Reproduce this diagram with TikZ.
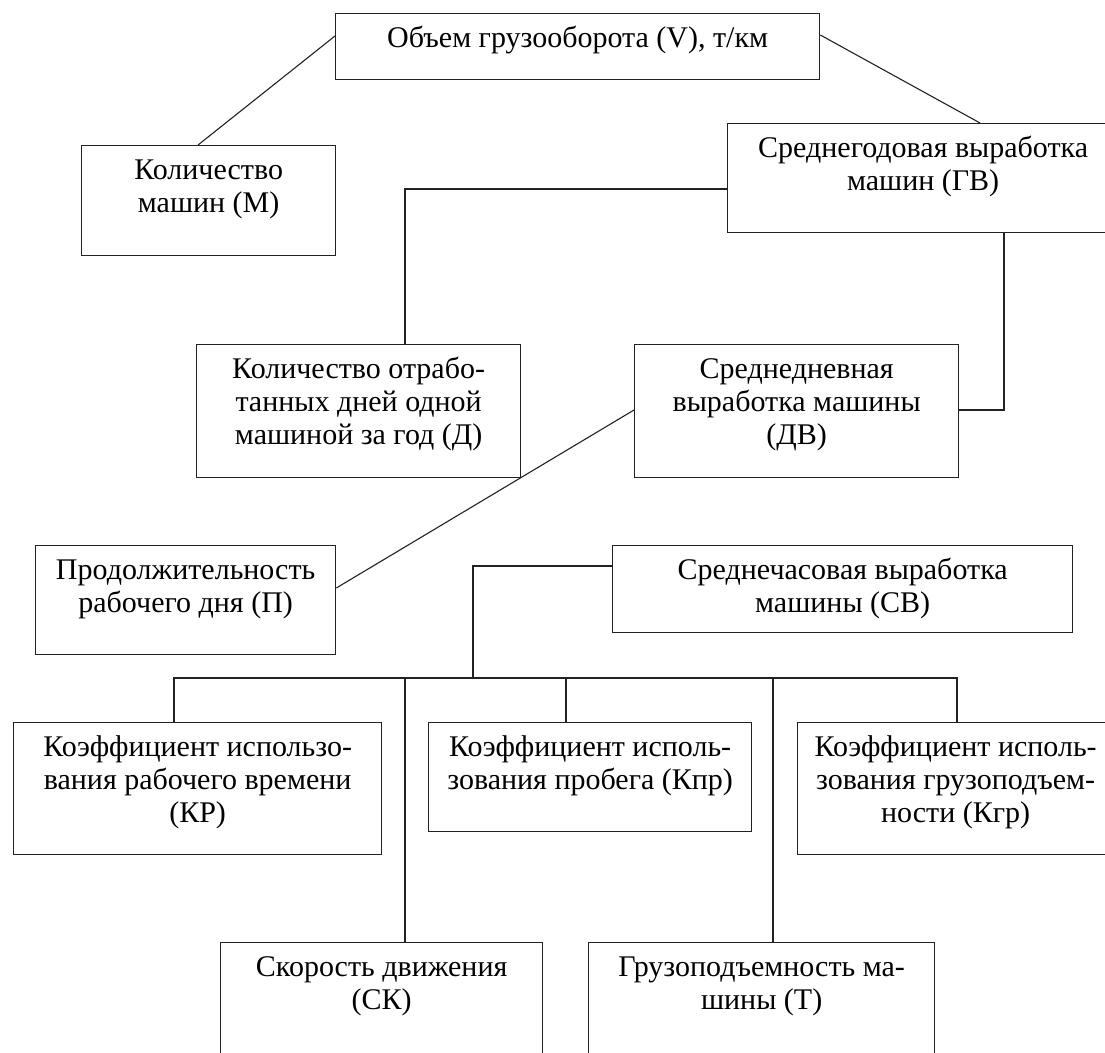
\documentclass[tikz,border=0pt]{standalone}
\usepackage{fontspec}
\setmainfont{Liberation Serif}
\usepackage{tikz}
\definecolor{ink}{HTML}{222222}
\newcommand{\blk}[3]{\parbox[t][#2pt][t]{#1pt}{\centering\rule{0pt}{34pt}#3}}

\begin{document}
\begin{tikzpicture}[
  x=1pt, y=-1pt,
  box/.style={draw=ink, line width=1.3pt, anchor=north west, inner sep=0pt,
              font=\fontsize{30}{33}\selectfont},
  link/.style={draw=ink, line width=1.1pt}
]
\path[use as bounding box, clip] (0,0) rectangle (1105,1052);
\fill[white] (0,0) rectangle (1105,1052);
\node[box] (vol)  at (335,13)  {\blk{484}{66}{Объем грузооборота (V), т/км}};
\node[box] (mach) at (81,145)  {\blk{254}{110}{Количество\\машин (М)}};
\node[box] (gv)   at (727,123) {\blk{391}{109}{Среднегодовая выработка\\машин (ГВ)}};
\node[box] (days) at (196,344) {\blk{324}{133}{Количество отрабо-\\танных дней одной\\машиной за год (Д)}};
\node[box] (dv)   at (634,344) {\blk{324}{133}{Среднедневная\\выработка машины\\(ДВ)}};
\node[box] (dur)  at (35,545)  {\blk{300}{109}{Продолжительность\\рабочего дня (П)}};
\node[box] (sv)   at (612,545) {\blk{460}{87}{Среднечасовая выработка\\машины (СВ)}};
\node[box] (kr)   at (13,722)  {\blk{368}{132}{Коэффициент использо-\\вания рабочего времени\\(КР)}};
\node[box] (kpr)  at (428,722) {\blk{323}{109}{Коэффициент исполь-\\зования пробега (Кпр)}};
\node[box] (kgr)  at (797,722) {\blk{316}{132}{Коэффициент исполь-\\зования грузоподъем-\\ности (Кгр)}};
\node[box] (sk)   at (220,942) {\blk{322}{133}{Скорость движения\\(СК)}};
\node[box] (cap)  at (588,942) {\blk{346}{133}{Грузоподъемность ма-\\шины (Т)}};
\coordinate (bus) at (473,678);
\draw[link] ([yshift=-23pt]vol.north west) -- ([xshift=117pt]mach.north west);
\draw[link] ([yshift=-22pt]vol.north east) -- ([xshift=253pt]gv.north west);
\draw[link] ([yshift=-66pt]gv.north west) -| ([xshift=209pt]days.north west);
\draw[link] ([xshift=277pt]gv.south west) |- ([yshift=-66pt]dv.north east);
\draw[link] ([yshift=-66pt]dv.north west) -- ([yshift=-43pt]dur.north east);
\draw[link] ([yshift=-21pt]sv.north west) -| (bus);
\draw[link] (bus) -| ([xshift=161pt]kr.north west);
\draw[link] (bus) -| ([xshift=185pt]sk.north west);
\draw[link] (bus) -| ([xshift=138pt]kpr.north west);
\draw[link] (bus) -| ([xshift=185pt]cap.north west);
\draw[link] (bus) -| ([xshift=160pt]kgr.north west);
\end{tikzpicture}
\end{document}
